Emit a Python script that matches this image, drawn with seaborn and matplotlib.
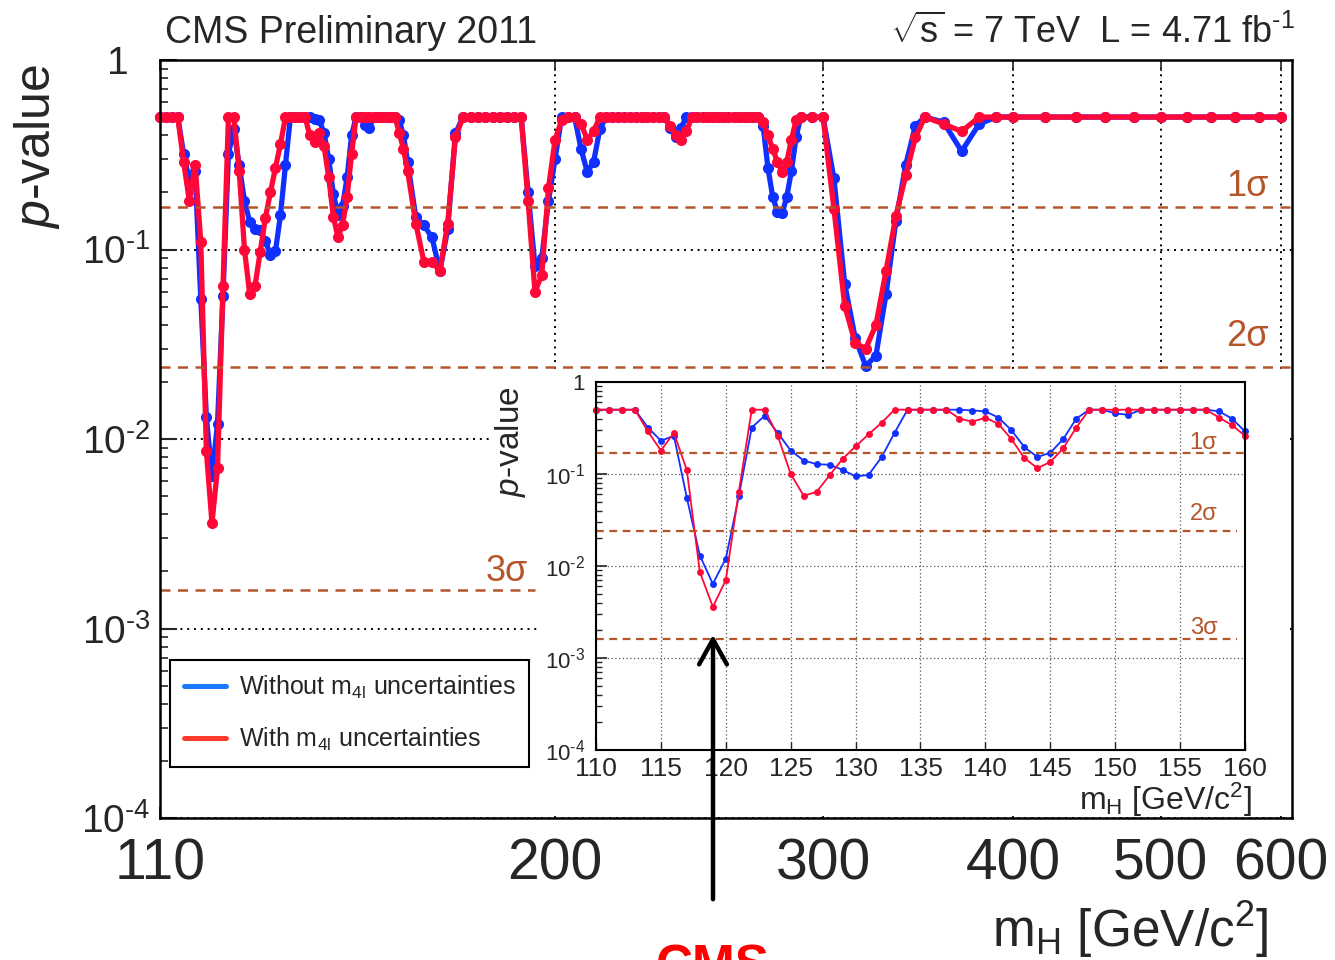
import numpy as np
import pandas as pd
import matplotlib
matplotlib.use("Agg")
import matplotlib.pyplot as plt
from matplotlib.lines import Line2D
from matplotlib.patches import Rectangle, FancyArrowPatch
from matplotlib.ticker import FixedLocator, FixedFormatter, LogLocator, NullLocator, NullFormatter
import seaborn as sns

# mass scan points [GeV/c^2]
mass_110_160 = [110, 111, 112, 113, 114, 115, 116, 117, 118, 119,
                120, 121, 122, 123, 124, 125, 126, 127, 128, 129,
                130, 131, 132, 133, 134, 135, 136, 137, 138, 139,
                140, 141, 142, 143, 144, 145, 146, 147, 148, 149,
                150, 151, 152, 153, 154, 155, 156, 157, 158, 159, 160]
blue_110_160 = [0.5, 0.5, 0.5, 0.5, 0.32, 0.23, 0.26, 0.055, 0.013, 0.0064,
                0.012, 0.057, 0.32, 0.43, 0.28, 0.18, 0.14, 0.128, 0.126, 0.111,
                0.094, 0.098, 0.152, 0.28, 0.5, 0.5, 0.5, 0.5, 0.5, 0.49,
                0.48, 0.41, 0.30, 0.196, 0.153, 0.17, 0.24, 0.40, 0.5, 0.5,
                0.456, 0.44, 0.5, 0.5, 0.5, 0.5, 0.5, 0.5, 0.48, 0.40, 0.29]
red_110_160 = [0.5, 0.5, 0.5, 0.5, 0.29, 0.18, 0.28, 0.11, 0.0086, 0.0036,
               0.0070, 0.064, 0.5, 0.5, 0.26, 0.10, 0.058, 0.064, 0.097, 0.146,
               0.20, 0.27, 0.36, 0.5, 0.5, 0.5, 0.5, 0.5, 0.40, 0.37,
               0.41, 0.35, 0.24, 0.149, 0.116, 0.135, 0.19, 0.32, 0.5, 0.5,
               0.5, 0.5, 0.5, 0.5, 0.5, 0.5, 0.5, 0.5, 0.41, 0.34, 0.26]

mass_162_290 = [162, 164, 166, 168, 170, 172, 174, 176, 178, 180,
                182, 184, 186, 188, 190, 192, 194, 196, 198, 200,
                202, 204, 206, 208, 210, 212, 214, 216, 218, 220,
                222, 224, 226, 228, 230, 232, 234, 236, 238, 240,
                242, 244, 246, 248, 250, 252, 254, 256, 258, 260,
                262, 264, 266, 268, 270, 272, 274, 276, 278, 280,
                282, 284, 286, 288, 290]
blue_162_290 = [0.148, 0.134, 0.116, 0.077, 0.128, 0.41, 0.5, 0.5, 0.5, 0.5,
                0.5, 0.5, 0.5, 0.5, 0.5, 0.20, 0.082, 0.09, 0.18, 0.30,
                0.5, 0.5, 0.5, 0.34, 0.256, 0.29, 0.43, 0.5, 0.5, 0.5,
                0.5, 0.5, 0.5, 0.5, 0.5, 0.5, 0.5, 0.5, 0.44, 0.39,
                0.44, 0.5, 0.5, 0.5, 0.5, 0.5, 0.5, 0.5, 0.5, 0.5,
                0.5, 0.5, 0.5, 0.5, 0.5, 0.5, 0.45, 0.27, 0.19, 0.158,
                0.155, 0.19, 0.26, 0.39, 0.5]
red_162_290 = [0.137, 0.086, 0.086, 0.077, 0.137, 0.39, 0.5, 0.5, 0.5, 0.5,
               0.5, 0.5, 0.5, 0.5, 0.5, 0.18, 0.060, 0.073, 0.21, 0.38,
               0.48, 0.5, 0.5, 0.46, 0.38, 0.42, 0.5, 0.5, 0.5, 0.5,
               0.5, 0.5, 0.5, 0.5, 0.5, 0.5, 0.5, 0.5, 0.45, 0.40,
               0.38, 0.42, 0.5, 0.5, 0.5, 0.5, 0.5, 0.5, 0.5, 0.5,
               0.5, 0.5, 0.5, 0.5, 0.5, 0.5, 0.47, 0.40, 0.34, 0.29,
               0.256, 0.29, 0.38, 0.48, 0.5]

mass_295_600 = [295, 300, 305, 310, 315, 320, 325, 330, 335, 340,
                345, 350, 360, 370, 380, 390, 400, 420, 440, 460,
                480, 500, 520, 540, 560, 580, 600]
blue_295_600 = [0.5, 0.5, 0.237, 0.066, 0.034, 0.0243, 0.0275, 0.058, 0.142, 0.28,
                0.45, 0.5, 0.47, 0.33, 0.46, 0.5, 0.5, 0.5, 0.5, 0.5,
                0.5, 0.5, 0.5, 0.5, 0.5, 0.5, 0.5]
red_295_600 = [0.5, 0.5, 0.164, 0.0506, 0.032, 0.030, 0.040, 0.077, 0.151, 0.246,
               0.39, 0.5, 0.46, 0.42, 0.5, 0.5, 0.5, 0.5, 0.5, 0.5,
               0.5, 0.5, 0.5, 0.5, 0.5, 0.5, 0.5]

series_names = ["Without m4l uncertainties", "With m4l uncertainties"]
legend_labels = [r"Without m$_{\mathrm{4l}}$ uncertainties",
                 r"With m$_{\mathrm{4l}}$ uncertainties"]
sigma_p = [0.168, 0.024, 0.0016]
sigma_labels = ["1σ", "2σ", "3σ"]
main_xticks = [110, 200, 300, 400, 500, 600]
inset_xticks = [110, 115, 120, 125, 130, 135, 140, 145, 150, 155, 160]
yticks = [1e-4, 1e-3, 1e-2, 1e-1, 1]
ytick_labels = [r"$10^{\text{-}4}$", r"$10^{\text{-}3}$", r"$10^{\text{-}2}$",
                r"$10^{\text{-}1}$", "1"]

c_blue, c_red = "#1030ff", "#ff0838"
c_leg_blue, c_leg_red = "#1a78ff", "#ff3b2e"
c_sig = "#b4562a"

sns.set_style("ticks")
plt.rcParams["font.family"] = ["Liberation Sans", "DejaVu Sans"]
plt.rcParams["mathtext.fontset"] = "custom"
plt.rcParams["mathtext.rm"] = "Liberation Sans"
plt.rcParams["mathtext.it"] = "Liberation Sans:italic"
plt.rcParams["mathtext.bf"] = "Liberation Sans:bold"

W, H = 1335, 960


def fx(px):
    return px / W


def fy(py):
    return 1 - py / H


def long_frame(mass, blue, red):
    return pd.concat([
        pd.DataFrame({"mass": mass, "pvalue": blue, "series": series_names[0]}),
        pd.DataFrame({"mass": mass, "pvalue": red, "series": series_names[1]}),
    ], ignore_index=True)


df = long_frame(mass_110_160 + mass_162_290 + mass_295_600,
                blue_110_160 + blue_162_290 + blue_295_600,
                red_110_160 + red_162_290 + red_295_600)
df_in = long_frame(mass_110_160, blue_110_160, red_110_160)

fig = plt.figure(figsize=(13.35, 9.6), dpi=100)

# ---- main panel ----
ax = fig.add_axes([fx(160), fy(818), fx(1292) - fx(160), fy(60) - fy(818)])
ax.set_xscale("log")
ax.set_yscale("log")
sns.lineplot(data=df, x="mass", y="pvalue", hue="series", hue_order=series_names,
             palette=[c_blue, c_red], marker="o", markersize=8, markeredgewidth=0,
             linewidth=3.8, estimator=None, sort=False, legend=False, ax=ax)
for ln in ax.lines:
    ln.set_clip_on(False)
ax.set_xlim(110, 610)
ax.set_ylim(1e-4, 1)
ax.set_xlabel("")
ax.set_ylabel("")
ax.xaxis.set_major_locator(FixedLocator(main_xticks))
ax.xaxis.set_major_formatter(FixedFormatter([str(t) for t in main_xticks]))
ax.xaxis.set_minor_locator(NullLocator())
ax.yaxis.set_major_locator(FixedLocator(yticks))
ax.yaxis.set_major_formatter(FixedFormatter(ytick_labels[:-1] + ["1  "]))
ax.yaxis.set_minor_locator(LogLocator(base=10, subs=np.arange(2, 10)))
ax.yaxis.set_minor_formatter(NullFormatter())
ax.tick_params(axis="y", which="major", direction="in", length=12, width=1.5,
               labelsize=28, pad=7)
ax.tick_params(axis="y", which="minor", direction="in", length=6, width=1.2)
ax.tick_params(axis="x", which="major", direction="in", length=8, width=1.2,
               labelsize=41, pad=14, top=True)
ax.grid(True, which="major", linestyle=(0, (1, 2.5)), color="black", linewidth=1.4)
for sp in ax.spines.values():
    sp.set_linewidth(1.8)
    sp.set_color("black")

for p, xmax in zip(sigma_p, [1, 1, 0.331]):
    ax.axhline(p, xmin=0, xmax=xmax, color=c_sig, linestyle=(0, (4, 3)), linewidth=1.8)
ax.text(570, 0.215, sigma_labels[0], color=c_sig, fontsize=26, ha="center", va="center")
ax.text(570, 0.0347, sigma_labels[1], color=c_sig, fontsize=26, ha="center", va="center")
ax.text(186, 0.002, sigma_labels[2], color=c_sig, fontsize=26, ha="center", va="center")

handles = [Line2D([], [], color=c_leg_blue, linewidth=3.6),
           Line2D([], [], color=c_leg_red, linewidth=3.6)]
leg = ax.legend(handles, legend_labels, loc="upper left",
                bbox_to_anchor=(fx(170), fy(660)), bbox_transform=fig.transFigure,
                frameon=True, fancybox=False, edgecolor="black", framealpha=1,
                fontsize=18, handlelength=1.7, handletextpad=0.5, labelspacing=1.0,
                borderpad=0.55, borderaxespad=0)
leg.get_frame().set_linewidth(1.5)

# white area behind the inset
fig.add_artist(Rectangle((fx(537), fy(816)), fx(1290) - fx(537), fy(372) - fy(816),
                         transform=fig.transFigure, facecolor="white",
                         edgecolor="none", zorder=0.5))
fig.add_artist(Rectangle((fx(490), fy(530)), fx(537) - fx(490), fy(375) - fy(530),
                         transform=fig.transFigure, facecolor="white",
                         edgecolor="none", zorder=0.5))

# ---- inset ----
axin = fig.add_axes([fx(596), fy(750), fx(1245) - fx(596), fy(382) - fy(750)])
axin.set_zorder(1)
axin.set_yscale("log")
sns.lineplot(data=df_in, x="mass", y="pvalue", hue="series", hue_order=series_names,
             palette=[c_blue, c_red], marker="o", markersize=5, markeredgewidth=0,
             linewidth=1.3, estimator=None, sort=False, legend=False, ax=axin)
for ln in axin.lines:
    ln.set_clip_on(False)
axin.set_xlim(110, 160)
axin.set_ylim(1e-4, 1)
axin.set_xlabel("")
axin.set_ylabel("")
axin.xaxis.set_major_locator(FixedLocator(inset_xticks))
axin.xaxis.set_major_formatter(FixedFormatter([str(t) for t in inset_xticks]))
axin.yaxis.set_major_locator(FixedLocator(yticks))
axin.yaxis.set_major_formatter(FixedFormatter(ytick_labels))
axin.yaxis.set_minor_locator(LogLocator(base=10, subs=np.arange(2, 10)))
axin.yaxis.set_minor_formatter(NullFormatter())
axin.tick_params(axis="y", which="major", direction="in", length=8, width=1.2,
                 labelsize=16, pad=8)
axin.tick_params(axis="y", which="minor", direction="in", length=4, width=1)
axin.tick_params(axis="x", which="major", direction="in", length=6, width=1,
                 labelsize=19, pad=5)
axin.grid(True, which="major", linestyle=(0, (1, 2)), color="#555555", linewidth=0.9)
for sp in axin.spines.values():
    sp.set_linewidth(1.5)
    sp.set_color("black")
for p, xmax in zip(sigma_p, [1, 0.988, 0.988]):
    axin.axhline(p, xmin=0, xmax=xmax, color=c_sig, linestyle=(0, (3.5, 2.5)), linewidth=1.6)
axin.text(156.8, 0.219, sigma_labels[0], color=c_sig, fontsize=17, ha="center", va="center")
axin.text(156.8, 0.037, sigma_labels[1], color=c_sig, fontsize=17, ha="center", va="center")
axin.text(156.8, 0.0021, sigma_labels[2], color=c_sig, fontsize=17, ha="center", va="center")

fig.text(fx(1252), fy(800), r"m$_{\mathrm{H}}$ [GeV/c$^{2}$]", fontsize=23,
         ha="right", va="center")
fig.text(fx(511), fy(442), r"$p$-value", fontsize=24, rotation=90,
         ha="center", va="center")

# ---- labels around the main panel ----
fig.text(fx(37), fy(147), r"$p$-value", fontsize=36, rotation=90, ha="center", va="center")
fig.text(fx(1268), fy(930), r"m$_{\mathrm{H}}$ [GeV/c$^{2}$]", fontsize=37,
         ha="right", va="center")
fig.text(fx(165), fy(33), "CMS Preliminary 2011", fontsize=27, ha="left", va="center")
fig.text(fx(1295), fy(33), r"$\sqrt{\mathrm{s}}$ = 7 TeV  L = 4.71 fb$^{\text{-}1}$",
         fontsize=26, ha="right", va="center")

arrow = FancyArrowPatch(posA=(fx(713), fy(902)), posB=(fx(713), fy(632)),
                        transform=fig.transFigure, arrowstyle="->,head_length=0.9,head_width=0.5",
                        mutation_scale=20, linewidth=3.2, color="black", zorder=2)
fig.add_artist(arrow)
fig.text(fx(713), fy(944), "CMS", color="red", fontsize=37, fontweight="bold",
         ha="center", va="top")

fig.savefig("out.png", dpi=100)
